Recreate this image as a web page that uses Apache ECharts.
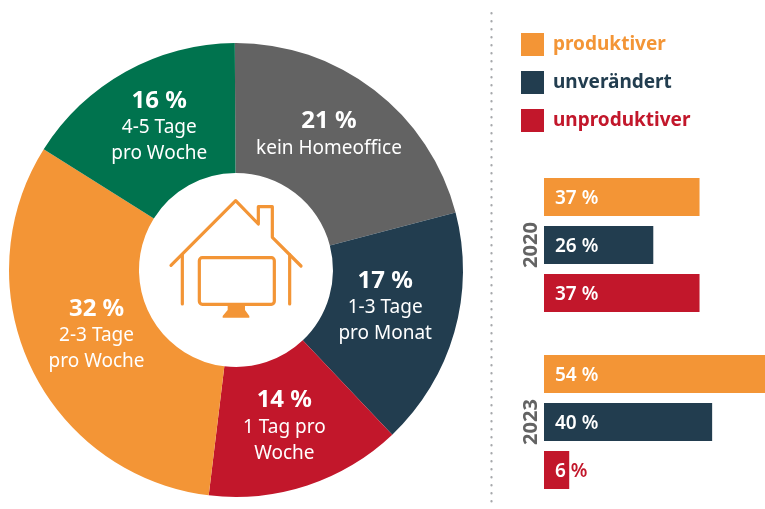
<!DOCTYPE html>
<html><head><meta charset="utf-8">
<style>html,body{margin:0;padding:0;background:#fff}#c{width:765px;height:509px}</style>
<script src="https://cdn.jsdelivr.net/npm/echarts@6/dist/echarts.min.js"></script>
</head><body><div id="c"></div>
<script>
const pieNames = ['kein Homeoffice','1-3 Tage\npro Monat','1 Tag pro\nWoche','2-3 Tage\npro Woche','4-5 Tage\npro Woche'];
const pieValues = [21,17,14,32,16];
const pieColors = ['#636363','#223D4F','#C2172B','#F39536','#00734E'];
const pieLabelShift = [[-7.5,-4.5],[-9.5,-8.5],[-3.5,-0.5],[9.5,-6],[3.5,1]];
const responses = ['produktiver','unverändert','unproduktiver'];
const responseColors = ['#F39536','#223D4F','#C2172B'];
const years = ['2020','2023'];
const values2020 = [37,26,37];
const values2023 = [54,40,6];
const FONT = '"Noto Sans","Open Sans",sans-serif';
const ORANGE = '#F39536';

function barLabel(v){
  if(v < 10) return '{w|'+v+'}{r| %}';
  return '{w|'+v+' %}';
}
function barSeries(values, idx){
  return values.map((v,i)=>({
    type:'bar', name:responses[i], xAxisIndex:idx, yAxisIndex:idx,
    data:[v], barWidth:38, barGap:'26.3%', silent:true,
    itemStyle:{color:responseColors[i]},
    label:{show:true, position:'insideLeft', distance:11, offset:[0,1.5],
      formatter:p=>barLabel(p.value),
      rich:{
        w:{color:'#fff',fontFamily:FONT,fontWeight:600,fontSize:19},
        r:{color:'#C2172B',fontFamily:FONT,fontWeight:600,fontSize:19}
      }}
  }));
}
function grid(top){return {left:544,top:top,width:227,height:144,outerBoundsMode:'none'};}
function xA(gi){return {type:'value',gridIndex:gi,min:0,max:54,show:false};}
function yA(gi,name){return {type:'category',gridIndex:gi,data:[name],inverse:true,
  axisLine:{show:false},axisTick:{show:false},
  axisLabel:{rotate:90,margin:3,color:'#636363',fontFamily:FONT,fontWeight:700,fontSize:20}};}

// icon geometry (house with monitor)
const ix = x=>130+x/3, iy = y=>160+y/3;
const stroke = {stroke:ORANGE,lineWidth:3.2,lineCap:'round',lineJoin:'round',fill:null};
const pl = pts=>({type:'polyline',silent:true,shape:{points:pts.map(p=>[ix(p[0]),iy(p[1])])},style:stroke});
const graphics = [
  {type:'line',silent:true,shape:{x1:491.5,y1:13,x2:491.5,y2:509},
   style:{stroke:'#A6A8AB',lineWidth:2.2,lineDash:[0.5,7.5],lineCap:'round'}},
  pl([[123,316],[317,122],[385,192],[385,140],[427,140],[427,232],[513,318]]),
  pl([[157,284],[157,432]]),
  pl([[479,284],[479,432]]),
  {type:'rect',silent:true,shape:{x:ix(208),y:iy(293),width:225/3,height:140/3,r:3},style:stroke},
  {type:'polygon',silent:true,shape:{points:[[293,434],[345,434],[345,450],[358,468],[358,473],[278,473],[278,468],[293,450]].map(p=>[ix(p[0]),iy(p[1])])},
   style:{fill:ORANGE}}
];

const chart = echarts.init(document.getElementById('c'),null,{renderer:'canvas'});
chart.setOption({
  animation:false,
  backgroundColor:'#fff',
  legend:{
    orient:'vertical',left:521,top:33,padding:0,itemWidth:23,itemHeight:23,itemGap:15,
    icon:'rect',selectedMode:false,
    data:responses.map((n,i)=>({name:n,textStyle:{color:responseColors[i]}})),
    textStyle:{fontFamily:FONT,fontWeight:700,fontSize:19,padding:[0,0,2,4]}
  },
  grid:[grid(173),grid(350)],
  xAxis:[xA(0),xA(1)],
  yAxis:[yA(0,years[0]),yA(1,years[1])],
  series:[
    {type:'pie',silent:true,center:[236,270],radius:[97,227],startAngle:90.3,
     data:pieValues.map((v,i)=>({name:pieNames[i],value:v,itemStyle:{color:pieColors[i]}})),
     label:{show:true,position:'inside',align:'center',
       formatter:p=>'{b|'+p.value+' %}\n{n|'+p.name.split('\n').join('}\n{n|')+'}',
       rich:{
         b:{color:'#fff',fontFamily:FONT,fontWeight:700,fontSize:24,lineHeight:28,align:'center'},
         n:{color:'#fff',fontFamily:FONT,fontSize:19,lineHeight:26,align:'center'}
       }},
     labelLayout:p=>({dx:pieLabelShift[p.dataIndex][0],dy:pieLabelShift[p.dataIndex][1]}),
     labelLine:{show:false}},
    ...barSeries(values2020,0),
    ...barSeries(values2023,1)
  ],
  graphic:graphics
});
</script></body></html>
